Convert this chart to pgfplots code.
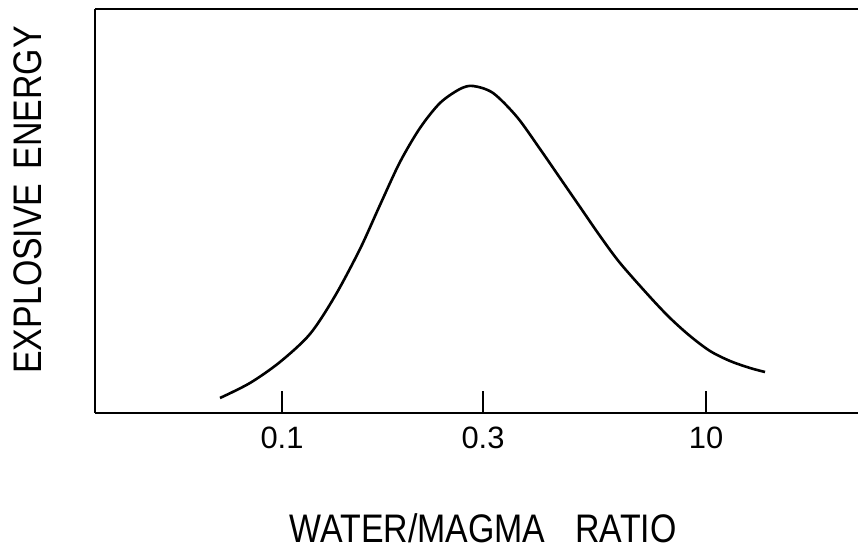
\documentclass[border=0pt]{standalone}
\usepackage{fontspec}
\setmainfont[FakeStretch=0.85]{Liberation Sans}
\newfontfamily\tickfont{Liberation Sans}
\usepackage{pgfplots}
\pgfplotsset{compat=1.18}
\begin{document}
\begin{tikzpicture}[x=1bp,y=1bp]
\path[use as bounding box] (0,0) rectangle (858,556);
\begin{axis}[
  at={(95bp,143bp)}, anchor=south west,
  scale only axis, width=763bp, height=404bp,
  xmin=95, xmax=858, ymin=143, ymax=547,
  axis x line*=box, axis y line*=left,
  axis line style={line width=2.2bp, black},
  ytick=\empty,
  xtick={282,483,706}, xticklabels={0.1,0.3,10},
  xtick pos=bottom, tick align=inside,
  major tick length=22bp,
  every tick/.style={black, line width=2bp},
  /pgf/number format/assume math mode=true,
  xticklabel style={font=\tickfont\fontsize{31}{37}\selectfont, yshift=-10bp},
  xlabel={WATER/MAGMA\hspace{30bp}RATIO},
  ylabel={EXPLOSIVE\hspace{14bp}ENERGY},
  every axis x label/.style={at={(axis cs:483,13)}, anchor=base, font=\fontsize{40}{48}\selectfont},
  every axis y label/.style={at={(axis cs:42,356)}, anchor=base, rotate=90, font=\fontsize{40}{48}\selectfont},
  clip=false,
]
\addplot[black, line width=2.6bp, smooth] coordinates {
(220,158) (250,173) (280,194) (310,222) (335,260) (360,307) (380,351)
(400,394) (420,428) (440,453) (460,467) (473,470) (493,463) (517,439)
(540,407) (560,378) (580,349) (600,320) (620,293) (650,259) (670,238)
(690,220) (710,205) (730,195) (750,188) (765,184)
};
\end{axis}
\end{tikzpicture}
\end{document}
